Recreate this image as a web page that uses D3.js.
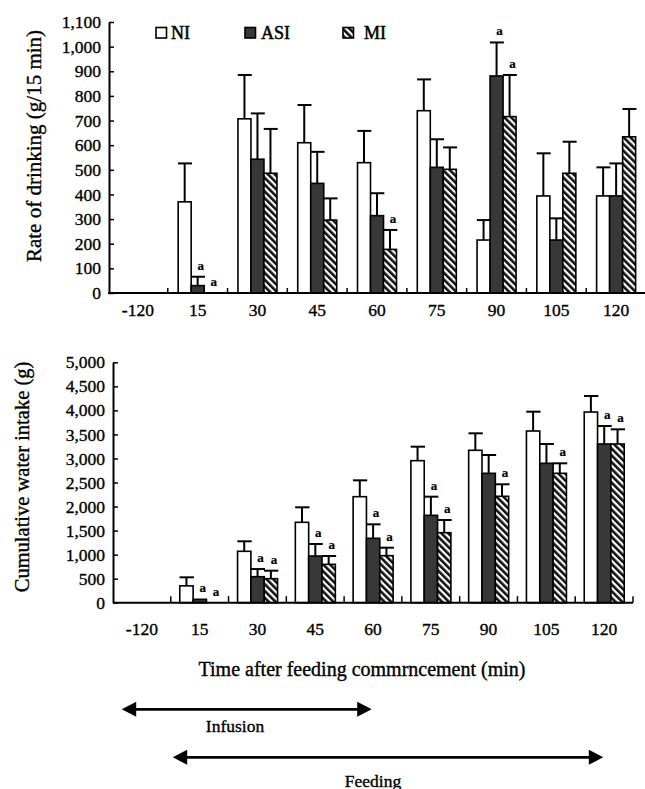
<!DOCTYPE html>
<html>
<head>
<meta charset="utf-8">
<script src="https://cdn.jsdelivr.net/npm/d3@7"></script>
<style>
  html, body { margin: 0; padding: 0; background: #fff; }
  svg { display: block; }
  text { font-family: "Liberation Serif", "Times New Roman", serif; fill: #000; stroke: #000; stroke-width: 0.35px; }
</style>
</head>
<body>
<svg id="chart" width="645" height="789"></svg>
<script>
// ---------- DATA ----------
const categories = ["-120", "15", "30", "45", "60", "75", "90", "105", "120"];
const seriesNames = ["NI", "ASI", "MI"];

// Rate of drinking (g/15 min): means and SE
const rateNI     = [0, 370, 707, 610, 529, 740, 215, 394, 394];
const rateNIErr  = [0, 156, 178, 153, 129, 127,  81, 173, 116];
const rateASI    = [0,  30, 543, 445, 314, 510, 881, 215, 394];
const rateASIErr = [0,  36, 186, 128,  91, 114, 136,  88, 132];
const rateMI     = [0,   0, 486, 296, 177, 502, 716, 486, 634];
const rateMIErr  = [0,   0, 180,  88,  79,  89, 169, 128, 113];
const rateSigASI = [0, 1, 0, 0, 0, 0, 1, 0, 0];
const rateSigMI  = [0, 1, 0, 0, 1, 0, 1, 0, 0];

// Cumulative water intake (g): means and SE
const cumNI     = [0, 350, 1069, 1672, 2205, 2954, 3170, 3571, 3966];
const cumNIErr  = [0, 178,  208,  312,  340,  291,  353,  402,  333];
const cumASI    = [0,  70,  541,  971, 1339, 1817, 2691, 2899, 3301];
const cumASIErr = [0,   0,  159,  250,  291,  388,  381,  402,  374];
const cumMI     = [0,   0,  500,  798,  978, 1456, 2213, 2691, 3301];
const cumMIErr  = [0,   0,  166,  173,  166,  264,  250,  208,  305];
const cumSigASI = [0, 1, 1, 1, 1, 1, 0, 0, 1];
const cumSigMI  = [0, 1, 1, 1, 1, 1, 1, 1, 1];

const rateTicks = d3.range(0, 1101, 100);
const cumTicks  = d3.range(0, 5001, 500);

const xTitle = "Time after feeding commrncement (min)";
const rateTitle = "Rate of drinking (g/15 min)";
const cumTitle = "Cumulative water intake (g)";
const phases = [
  { label: "Infusion" },
  { label: "Feeding" }
];

// ---------- DRAW ----------
const svg = d3.select("#chart");
const defs = svg.append("defs");
const pat = defs.append("pattern")
  .attr("id", "hatch")
  .attr("patternUnits", "userSpaceOnUse")
  .attr("width", 4.8).attr("height", 4.8)
  .attr("patternTransform", "rotate(-45)");
pat.append("rect").attr("width", 4.8).attr("height", 4.8).attr("fill", "#fff");
pat.append("rect").attr("width", 2.6).attr("height", 4.8).attr("fill", "#111");

const fills = { NI: "#ffffff", ASI: "#383838", MI: "url(#hatch)" };
const fmt = d3.format(",");

function buildRows(vals, errs, sigs) {
  return categories.map((c, i) => ({
    cat: c,
    bars: seriesNames.map((s, k) => ({
      series: s, value: vals[k][i], err: errs[k][i], sig: sigs[k][i]
    }))
  }));
}

function drawPanel(opt) {
  const g = svg.append("g");
  const x = d3.scaleBand().domain(categories).range(opt.xRange);
  const xs = d3.scaleBand().domain(seriesNames).range(opt.subRange);
  const y = d3.scaleLinear().domain(opt.yDomain).range(opt.yRange);

  const rows = buildRows(opt.vals, opt.errs, opt.sigs);

  const grp = g.selectAll("g.grp").data(rows).join("g")
    .attr("transform", d => `translate(${x(d.cat)},0)`);

  // bars
  grp.selectAll("rect.bar").data(d => d.bars.filter(b => b.value > 0)).join("rect")
    .attr("x", b => xs(b.series))
    .attr("width", xs.bandwidth())
    .attr("y", b => y(b.value))
    .attr("height", b => y(0) - y(b.value))
    .attr("fill", b => fills[b.series])
    .attr("stroke", "#000").attr("stroke-width", 1.6);

  // error bars
  const eb = grp.selectAll("g.err").data(d => d.bars.filter(b => b.err > 0)).join("g");
  eb.append("line")
    .attr("x1", b => xs(b.series) + xs.bandwidth() / 2)
    .attr("x2", b => xs(b.series) + xs.bandwidth() / 2)
    .attr("y1", b => y(b.value)).attr("y2", b => y(b.value + b.err))
    .attr("stroke", "#000").attr("stroke-width", 2);
  eb.append("line")
    .attr("x1", b => xs(b.series) - 0.2)
    .attr("x2", b => xs(b.series) + xs.bandwidth() + 0.8)
    .attr("y1", b => y(b.value + b.err)).attr("y2", b => y(b.value + b.err))
    .attr("stroke", "#000").attr("stroke-width", 2);

  // significance marks
  grp.selectAll("text.sig").data(d => d.bars.filter(b => b.sig)).join("text")
    .attr("x", b => xs(b.series) + xs.bandwidth() / 2 + 3)
    .attr("y", b => y(b.value + b.err) - 7)
    .attr("text-anchor", "middle")
    .attr("font-size", 13).attr("font-weight", "bold")
    .style("stroke-width", "0.2px")
    .text("a");

  // y axis
  const ya = g.append("g")
    .attr("transform", `translate(${opt.xAxisX},0)`)
    .call(d3.axisLeft(y).tickValues(opt.ticks).tickFormat(fmt)
      .tickSizeInner(-5).tickSizeOuter(0).tickPadding(8));
  ya.select(".domain").attr("stroke", "#000").attr("stroke-width", 2);
  ya.selectAll(".tick line").attr("stroke", "#000").attr("stroke-width", 1.5);
  ya.selectAll(".tick text")
    .attr("font-family", '"Liberation Serif", "Times New Roman", serif')
    .attr("font-size", 17.5).attr("fill", "#000");

  // x axis line
  g.append("line")
    .attr("x1", opt.xRange[0]).attr("x2", opt.xRange[1])
    .attr("y1", y(0)).attr("y2", y(0))
    .attr("stroke", "#000").attr("stroke-width", 2);
  // x separators
  const bounds = categories.slice(1).map(c => x(c)).concat([opt.xRange[1]]);
  g.selectAll("line.sep").data(bounds).join("line")
    .attr("x1", d => d).attr("x2", d => d)
    .attr("y1", y(0)).attr("y2", y(0) - opt.sepLen)
    .attr("stroke", "#000").attr("stroke-width", 1.5);
  // x labels
  g.selectAll("text.xl").data(categories).join("text")
    .attr("x", c => x(c) + x.bandwidth() / 2)
    .attr("y", opt.xLabelY)
    .attr("text-anchor", "middle")
    .attr("font-size", 17.5)
    .text(c => c);

  // y title
  g.append("text")
    .attr("transform", `translate(${opt.titlePos[0]},${opt.titlePos[1]}) rotate(-90)`)
    .attr("text-anchor", "middle")
    .attr("font-size", opt.titleSize)
    .text(opt.title);
}

drawPanel({
  xRange: [108, 646], subRange: [10.4, 49.4],
  yDomain: [0, 1100], yRange: [293, 22], xAxisX: 109,
  vals: [rateNI, rateASI, rateMI], errs: [rateNIErr, rateASIErr, rateMIErr],
  sigs: [rateNI.map(() => 0), rateSigASI, rateSigMI],
  ticks: rateTicks, sepLen: 5, xLabelY: 316,
  title: rateTitle, titlePos: [41, 146], titleSize: 21
});

drawPanel({
  xRange: [113, 633], subRange: [9, 49],
  yDomain: [0, 5000], yRange: [602.7, 362.3], xAxisX: 113,
  vals: [cumNI, cumASI, cumMI], errs: [cumNIErr, cumASIErr, cumMIErr],
  sigs: [cumNI.map(() => 0), cumSigASI, cumSigMI],
  ticks: cumTicks, sepLen: 6.5, xLabelY: 635,
  title: cumTitle, titlePos: [29, 477], titleSize: 20.5
});

// legend
const legendPos = [
  { box: 156, text: 171 },
  { box: 245, text: 261 },
  { box: 343, text: 364 }
];
seriesNames.forEach((s, i) => {
  svg.append("rect")
    .attr("x", legendPos[i].box).attr("y", 27.5)
    .attr("width", 10.5).attr("height", 10.5)
    .attr("fill", fills[s]).attr("stroke", "#000").attr("stroke-width", 1.6);
  svg.append("text")
    .attr("x", legendPos[i].text).attr("y", 38.5)
    .attr("font-size", 18)
    .style("stroke-width", "0.5px")
    .text(s);
});

// x title
svg.append("text")
  .attr("x", 362).attr("y", 676)
  .attr("text-anchor", "middle")
  .attr("font-size", 20)
  .text(xTitle);

// phase arrows
function arrow(x1, x2, yy) {
  svg.append("line")
    .attr("x1", x1 + 10).attr("x2", x2 - 10)
    .attr("y1", yy).attr("y2", yy)
    .attr("stroke", "#000").attr("stroke-width", 2.7);
  svg.append("path")
    .attr("d", `M${x1},${yy} L${x1 + 14.5},${yy - 7.5} L${x1 + 14.5},${yy + 7.5} Z`)
    .attr("fill", "#000");
  svg.append("path")
    .attr("d", `M${x2},${yy} L${x2 - 14.5},${yy - 7.5} L${x2 - 14.5},${yy + 7.5} Z`)
    .attr("fill", "#000");
}
arrow(121.7, 371.7, 709.3);
arrow(172.7, 603.3, 757.3);
svg.append("text").attr("x", 235).attr("y", 731.5).attr("text-anchor", "middle")
  .attr("font-size", 17.5).text(phases[0].label);
svg.append("text").attr("x", 373).attr("y", 786.5).attr("text-anchor", "middle")
  .attr("font-size", 17.5).text(phases[1].label);
</script>
</body>
</html>
